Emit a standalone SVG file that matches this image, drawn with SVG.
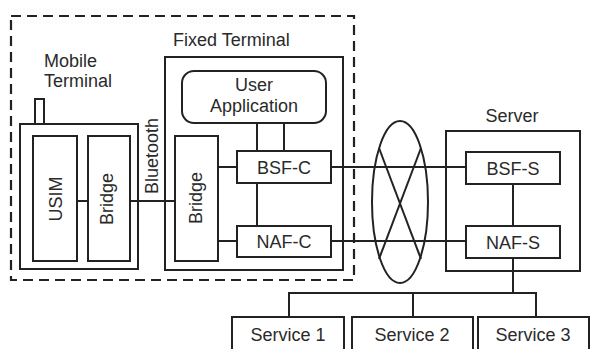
<svg xmlns="http://www.w3.org/2000/svg" width="594" height="349" viewBox="0 0 594 349">
  <style>
    .box { fill: #fff; stroke: #222; stroke-width: 2; }
    .frame { fill: none; stroke: #222; stroke-width: 2; }
    .line { fill: none; stroke: #222; stroke-width: 2; }
    .dash { fill: none; stroke: #222; stroke-width: 2.2; stroke-dasharray: 10 6; }
    text { font-family: "Liberation Sans", Arial, sans-serif; font-size: 18px; fill: #2a2a2a; }
    .mid { text-anchor: middle; }
  </style>
  <rect width="594" height="349" fill="#fff"/>

  <!-- client-side enclosure -->
  <rect id="client-side" class="dash" x="11" y="16" width="343" height="264"/>

  <!-- containers -->
  <g id="mobile-terminal">
    <text x="44" y="67">Mobile</text>
    <text x="44" y="87">Terminal</text>
    <rect class="box" x="35" y="99" width="9" height="25"/>
    <rect class="frame" x="20" y="124" width="118" height="145"/>
  </g>
  <g id="fixed-terminal">
    <text x="173" y="46">Fixed Terminal</text>
    <rect class="frame" x="165" y="57" width="178" height="213"/>
  </g>
  <g id="server">
    <text class="mid" x="512" y="122">Server</text>
    <rect class="frame" x="446" y="131" width="134" height="140"/>
  </g>

  <!-- network cloud -->
  <g id="network">
    <ellipse class="line" cx="400" cy="202" rx="28" ry="81"/>
    <line class="line" x1="379" y1="148" x2="421" y2="259"/>
    <line class="line" x1="421" y1="148" x2="379" y2="259"/>
  </g>

  <!-- connectors -->
  <g id="connectors">
    <line class="line" x1="77" y1="201" x2="88" y2="201"/>
    <line class="line" x1="130" y1="201" x2="175" y2="201"/>
    <line class="line" x1="257" y1="123" x2="257" y2="151"/>
    <line class="line" x1="284" y1="123" x2="284" y2="151"/>
    <line class="line" x1="257" y1="183" x2="257" y2="226"/>
    <line class="line" x1="218" y1="167" x2="237" y2="167"/>
    <line class="line" x1="218" y1="241" x2="237" y2="241"/>
    <line class="line" x1="331" y1="167" x2="466" y2="167"/>
    <line class="line" x1="331" y1="241" x2="466" y2="241"/>
    <line class="line" x1="513" y1="184" x2="513" y2="226"/>
    <line class="line" x1="513" y1="258" x2="513" y2="293"/>
    <polyline class="line" points="289,317 289,293 536,293 536,317"/>
    <line class="line" x1="413" y1="293" x2="413" y2="317"/>
  </g>

  <!-- mobile terminal parts -->
  <g id="usim">
    <rect class="box" x="33" y="136" width="44" height="125"/>
    <text class="mid" transform="translate(62 199) rotate(-90)">USIM</text>
  </g>
  <g id="mobile-bridge">
    <rect class="box" x="88" y="136" width="42" height="125"/>
    <text class="mid" transform="translate(113 199) rotate(-90)">Bridge</text>
  </g>
  <text id="bluetooth" class="mid" transform="translate(158 156) rotate(-90)">Bluetooth</text>

  <!-- fixed terminal parts -->
  <g id="user-application">
    <rect class="box" x="182" y="71" width="144" height="52" rx="12"/>
    <text class="mid"><tspan x="254" y="91">User</tspan><tspan x="254" y="112">Application</tspan></text>
  </g>
  <g id="fixed-bridge">
    <rect class="box" x="175" y="136" width="43" height="125"/>
    <text class="mid" transform="translate(202 198) rotate(-90)">Bridge</text>
  </g>
  <g id="bsf-c">
    <rect class="box" x="237" y="151" width="94" height="32"/>
    <text class="mid" x="284" y="174">BSF-C</text>
  </g>
  <g id="naf-c">
    <rect class="box" x="237" y="226" width="94" height="31"/>
    <text class="mid" x="284" y="248">NAF-C</text>
  </g>

  <!-- server parts -->
  <g id="bsf-s">
    <rect class="box" x="466" y="152" width="94" height="32"/>
    <text class="mid" x="513" y="175">BSF-S</text>
  </g>
  <g id="naf-s">
    <rect class="box" x="466" y="226" width="94" height="32"/>
    <text class="mid" x="513" y="249">NAF-S</text>
  </g>

  <!-- services -->
  <g id="service-1">
    <rect class="box" x="232" y="317" width="112" height="40"/>
    <text class="mid" x="288" y="341">Service 1</text>
  </g>
  <g id="service-2">
    <rect class="box" x="352" y="317" width="121" height="40"/>
    <text class="mid" x="412" y="341">Service 2</text>
  </g>
  <g id="service-3">
    <rect class="box" x="478" y="317" width="111" height="40"/>
    <text class="mid" x="533" y="341">Service 3</text>
  </g>
</svg>
